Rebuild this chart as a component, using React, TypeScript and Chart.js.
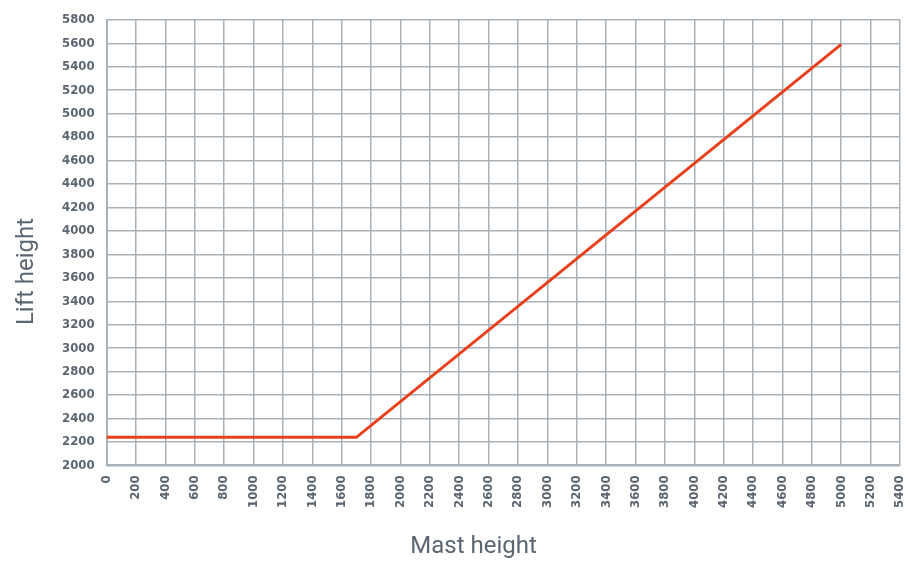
import React, { useEffect, useRef } from "react";
import { Chart, registerables } from "chart.js";

Chart.register(...registerables);

const mastHeight = [0, 1700, 5000];
const liftHeight = [2240, 2240, 5590];
const xTitle = "Mast height";
const yTitle = "Lift height";

const textColor = "#5b6670";
const tickFont = { family: '"DejaVu Sans Condensed", sans-serif', size: 13, weight: "bold" as const };

const axisTitles = {
  id: "axisTitles",
  afterDraw(chart: any) {
    const ctx = chart.ctx;
    ctx.save();
    ctx.fillStyle = textColor;
    ctx.font = "24px Roboto, sans-serif";
    ctx.textAlign = "center";
    ctx.textBaseline = "alphabetic";
    ctx.fillText(xTitle, 473.5, 553);
    ctx.translate(33, 271.5);
    ctx.rotate(-Math.PI / 2);
    ctx.fillText(yTitle, 0, 0);
    ctx.restore();
  },
};

export default function App() {
  const ref = useRef<HTMLCanvasElement>(null);
  useEffect(() => {
    document.body.style.margin = "0";
    const chart = new Chart(ref.current!, {
      type: "line",
      data: {
        datasets: [
          {
            data: mastHeight.map((x, i) => ({ x, y: liftHeight[i] })),
            borderColor: "#e8401c",
            borderWidth: 3,
            pointRadius: 0,
            tension: 0,
            fill: false,
          },
        ],
      },
      plugins: [axisTitles],
      options: {
        animation: false,
        responsive: false,
        layout: { padding: { top: 2, right: 9, left: 50, bottom: 44 } },
        plugins: { legend: { display: false }, tooltip: { enabled: false } },
        scales: {
          x: {
            type: "linear",
            min: 0,
            max: 5400,
            afterFit: (s: any) => {
              s.paddingRight = 0;
              s.paddingLeft = 0;
            },
            ticks: {
              stepSize: 200,
              minRotation: 90,
              maxRotation: 90,
              color: textColor,
              font: tickFont,
              padding: 10,
              callback: (v: any) => String(v),
            },
            grid: { color: "#a9b1b8", lineWidth: 1.5, drawTicks: false },
            border: { color: "#a9b1b8", width: 2 },
          },
          y: {
            type: "linear",
            min: 2000,
            max: 5800,
            ticks: {
              stepSize: 200,
              color: textColor,
              font: tickFont,
              padding: 12,
              callback: (v: any) => String(v),
            },
            grid: { color: "#a9b1b8", lineWidth: 1.5, drawTicks: false },
            border: { color: "#a9b1b8", width: 2 },
          },
        },
      },
    });
    return () => chart.destroy();
  }, []);
  return <canvas ref={ref} width={909} height={562} style={{ display: "block" }} />;
}
